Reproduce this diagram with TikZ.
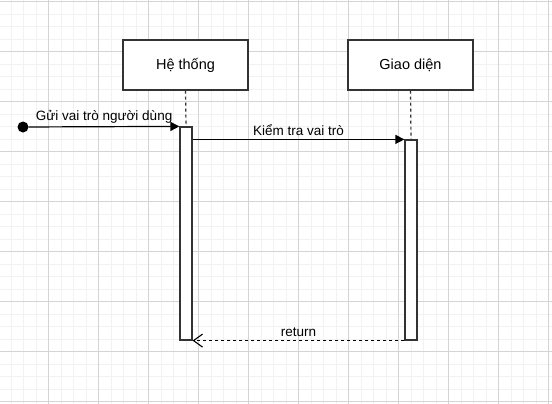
\documentclass[tikz,border=0pt]{standalone}
\usepackage{fontspec}
\setmainfont{Liberation Sans}
\usetikzlibrary{arrows.meta, positioning}

\tikzset{
  gridminor/.style={draw=black!5, line width=0.8pt},
  gridmajor/.style={draw=black!17, line width=0.9pt},
  lifebox/.style={draw=black!80, line width=1.2pt, fill=white, minimum width=125pt, minimum height=50pt, font=\fontsize{14.5}{17}\selectfont},
  actbar/.style={draw=black!80, line width=1.2pt, fill=white, minimum width=12pt, inner sep=0pt},
  msg/.style={-{Triangle[length=9pt,width=9pt]}, line width=1.2pt},
  reply/.style={-{Straight Barb[length=9pt,width=13pt]}, dash pattern=on 3pt off 3pt, line width=1.1pt},
  lifeline/.style={dash pattern=on 3pt off 3pt, line width=1.2pt, draw=black!80},
  lbl/.style={font=\fontsize{13.5}{16}\selectfont, above, inner sep=3pt}
}

\begin{document}
\begin{tikzpicture}[x=1pt,y=-1pt]
  \useasboundingbox[fill=white] (0,0) rectangle (552,404);
  % grid
  \foreach \gx in {11,23.5,...,552} \draw[gridminor] (\gx,0) -- (\gx,404);
  \foreach \gy in {14.3,26.8,...,404} \draw[gridminor] (0,\gy) -- (552,\gy);
  \foreach \gx in {48.5,98.5,...,552} \draw[gridmajor] (\gx,0) -- (\gx,404);
  \foreach \gy in {1.8,51.8,...,404} \draw[gridmajor] (0,\gy) -- (552,\gy);

  % participants
  \node[lifebox] (hethong) at (185.5,65) {Hệ thống};
  \node[lifebox] (giaodien) at (410.5,65) {Giao diện};

  % activation bars
  \node[actbar, minimum height=213pt] (act1) at (186,233.5) {};
  \node[actbar, minimum height=200pt] (act2) at (411,240) {};

  \draw[lifeline] (hethong.south) -- (act1.north);
  \draw[lifeline] (giaodien.south) -- (act2.north);

  % messages
  \node[circle, fill=black, inner sep=0pt, minimum size=11pt] (start) at (23,127) {};
  \draw[msg] (start) -- node[lbl] {Gửi vai trò người dùng} (act1.north west);
  \draw[msg] (act1.east |- act2.north) -- node[lbl] {Kiểm tra vai trò} (act2.north west);
  \draw[reply] (act2.south west) -- node[lbl] {return} (act1.south east);
\end{tikzpicture}
\end{document}
